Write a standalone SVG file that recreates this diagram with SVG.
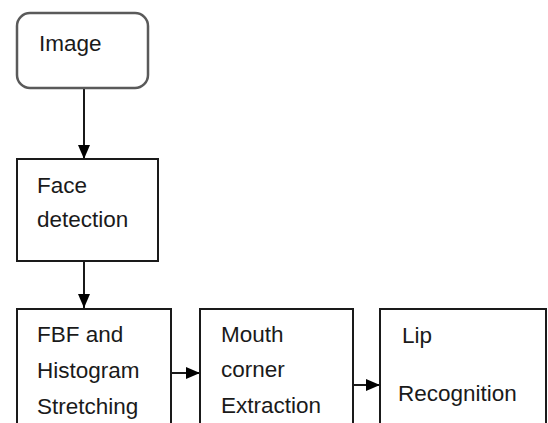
<svg xmlns="http://www.w3.org/2000/svg" width="548" height="423" viewBox="0 0 548 423">
  <style>
    .box { fill: #ffffff; stroke: #1a1a1a; stroke-width: 2; }
    .rbox { fill: #ffffff; stroke: #5a5a5a; stroke-width: 2.5; }
    .lbl { font-family: "Liberation Sans", Arial, sans-serif; font-size: 22.5px; fill: #1a1a1a; }
    .edge { stroke: #000000; stroke-width: 1.8; fill: none; }
  </style>
  <defs>
    <marker id="arr" markerWidth="14" markerHeight="12" refX="14" refY="6" orient="auto" markerUnits="userSpaceOnUse">
      <path d="M0,0 L14,6 L0,12 Z" fill="#000000"/>
    </marker>
  </defs>
  <rect x="0" y="0" width="548" height="423" fill="#ffffff"/>

  <g id="connectors">
    <line class="edge" x1="84" y1="88" x2="84" y2="159" marker-end="url(#arr)"/>
    <line class="edge" x1="84" y1="261" x2="84" y2="308" marker-end="url(#arr)"/>
    <line class="edge" x1="171" y1="373" x2="200" y2="373" marker-end="url(#arr)"/>
    <line class="edge" x1="353" y1="385" x2="380" y2="385" marker-end="url(#arr)"/>
  </g>

  <g id="image">
    <rect class="rbox" x="17" y="13" width="131" height="75" rx="13" ry="13"/>
    <text class="lbl" x="39" y="51">Image</text>
  </g>

  <g id="face-detection">
    <rect class="box" x="17" y="159" width="141" height="102"/>
    <text class="lbl" x="37" y="193">Face</text>
    <text class="lbl" x="37" y="227">detection</text>
  </g>

  <g id="fbf-histogram">
    <rect class="box" x="17" y="309" width="154" height="140"/>
    <text class="lbl" x="37" y="342">FBF and</text>
    <text class="lbl" x="37" y="378">Histogram</text>
    <text class="lbl" x="37" y="414">Stretching</text>
  </g>

  <g id="mouth-corner">
    <rect class="box" x="200" y="309" width="153" height="140"/>
    <text class="lbl" x="221" y="342">Mouth</text>
    <text class="lbl" x="221" y="377">corner</text>
    <text class="lbl" x="221" y="413">Extraction</text>
  </g>

  <g id="lip-recognition">
    <rect class="box" x="380" y="309" width="166" height="140"/>
    <text class="lbl" x="402" y="343">Lip</text>
    <text class="lbl" x="398" y="401">Recognition</text>
  </g>
</svg>
